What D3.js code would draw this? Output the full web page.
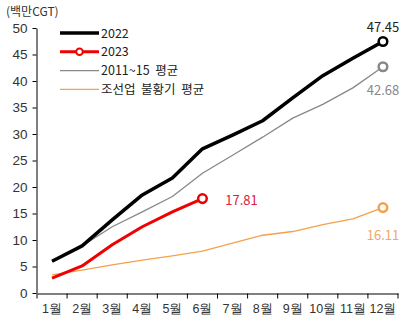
<!DOCTYPE html>
<html>
<head>
<meta charset="utf-8">
<script src="https://cdn.jsdelivr.net/npm/d3@7"></script>
<style>
  body { margin: 0; background: #fff; }
  svg { font-family: "Noto Sans CJK KR", "Noto Sans", sans-serif; }
</style>
</head>
<body>
<svg width="409" height="323"></svg>
<script>
const months = ["1월", "2월", "3월", "4월", "5월", "6월", "7월", "8월", "9월", "10월", "11월", "12월"];
const yTicks = [0, 5, 10, 15, 20, 25, 30, 35, 40, 45, 50];

const s2022 = [6.0, 8.9, 13.8, 18.5, 21.7, 27.2, 29.8, 32.5, 36.8, 41.0, 44.3, 47.45];
const s2023 = [2.8, 5.1, 9.1, 12.5, 15.3, 17.81];
const avg1115 = [6.0, 8.9, 12.5, 15.3, 18.2, 22.6, 26.0, 29.4, 33.0, 35.6, 38.7, 42.68];
const slumpAvg = [3.4, 4.3, 5.3, 6.2, 7.0, 7.9, 9.4, 10.9, 11.6, 12.9, 14.0, 16.11];

const series = [
  { name: "2022", values: s2022, color: "#000", width: 3.5, legendMarker: false, label: "47.45", labelColor: "#222", dx: 0, dy: -9.5 },
  { name: "2023", values: s2023, color: "#f00000", width: 3, legendMarker: true, label: "17.81", labelColor: "#e0203c", dx: 39, dy: 6 },
  { name: "2011~15\u00a0\u00a0평균", values: avg1115, color: "#888", width: 1.3, legendMarker: false, label: "42.68", labelColor: "#888", dx: 0, dy: 28.5 },
  { name: "조선업\u00a0\u00a0불황기\u00a0\u00a0평균", values: slumpAvg, color: "#f5a04a", width: 1.3, legendMarker: false, label: "16.11", labelColor: "#f0a868", dx: 0, dy: 32.5 }
];

const svg = d3.select("svg");
const mLeft = 37, mRight = 398, mTop = 28, mBottom = 293;

const x = d3.scaleBand().domain(months).range([mLeft, mRight]);
const y = d3.scaleLinear().domain([0, 50]).range([mBottom, mTop]);
const cx = m => x(m) + x.bandwidth() / 2;

// axes
const yAxis = svg.append("g")
  .attr("transform", `translate(${mLeft - 0.5},0)`)
  .call(d3.axisLeft(y).tickValues(yTicks).tickSize(4).tickSizeOuter(0));
const xAxis = svg.append("g")
  .attr("transform", `translate(0,${mBottom + 0.5})`)
  .call(d3.axisBottom(x).tickSize(5).tickSizeOuter(0));
xAxis.selectAll(".tick line").attr("transform", `translate(${-x.bandwidth() / 2},0)`);
xAxis.append("line").attr("x1", mRight).attr("x2", mRight).attr("y1", 0).attr("y2", 5).attr("stroke", "#000");

[yAxis, xAxis].forEach(a => {
  a.select(".domain").attr("stroke", "#000");
  a.selectAll(".tick line").attr("stroke", "#000");
  a.selectAll(".tick text").attr("fill", "#333").attr("font-size", 13.5);
});
yAxis.selectAll(".tick text").attr("x", -9);
xAxis.selectAll(".tick text").attr("y", 11).attr("font-size", 12.5);

svg.append("text").attr("x", 6).attr("y", 16).attr("font-size", 12).attr("fill", "#333").text("(백만CGT)");

// lines
const line = d3.line().x((d, i) => cx(months[i])).y(d => y(d));
series.slice().reverse().forEach(s => {
  svg.append("path").datum(s.values)
    .attr("fill", "none").attr("stroke", s.color).attr("stroke-width", s.width)
    .attr("stroke-linejoin", "round").attr("d", line);
  const li = s.values.length - 1;
  const px = cx(months[li]), py = y(s.values[li]);
  svg.append("circle").attr("cx", px).attr("cy", py).attr("r", 4.3)
    .attr("fill", "#fff").attr("stroke", s.color).attr("stroke-width", 2.5);
  svg.append("text").attr("x", px + s.dx).attr("y", py + s.dy)
    .attr("text-anchor", "middle").attr("font-size", 13).attr("fill", s.labelColor)
    .text(s.label);
});

// legend
const leg = svg.append("g");
series.forEach((s, i) => {
  const ly = 33 + i * 18.8;
  leg.append("line").attr("x1", 60).attr("x2", 99).attr("y1", ly).attr("y2", ly)
    .attr("stroke", s.color).attr("stroke-width", s.width);
  if (s.legendMarker) {
    leg.append("circle").attr("cx", 79.5).attr("cy", ly).attr("r", 3.3)
      .attr("fill", "#fff").attr("stroke", s.color).attr("stroke-width", 2);
  }
  leg.append("text").attr("x", 101).attr("y", ly + 4.5).attr("font-size", 12.5).attr("fill", "#222")
    .text(s.name);
});
</script>
</body>
</html>
